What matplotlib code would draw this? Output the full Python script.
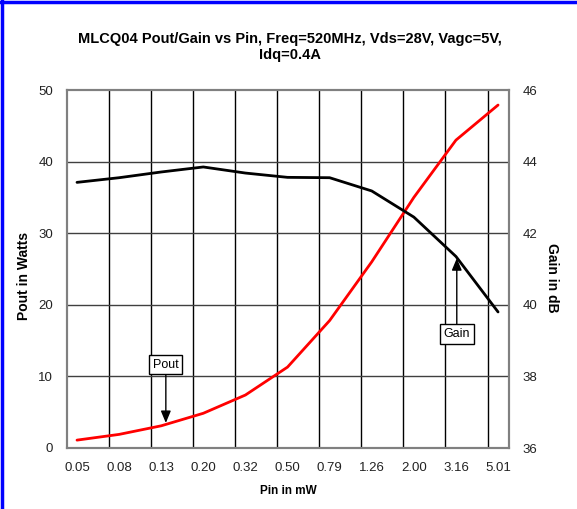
import matplotlib.pyplot as plt
from matplotlib.lines import Line2D

# 数据
pin_labels = ['0.05', '0.08', '0.13', '0.20', '0.32', '0.50', '0.79', '1.26', '2.00', '3.16', '5.01']
pout = [1.1, 1.9, 3.1, 4.85, 7.4, 11.3, 17.8, 26.0, 35.0, 43.0, 47.9]
gain = [43.42, 43.55, 43.71, 43.85, 43.68, 43.56, 43.55, 43.18, 42.45, 41.35, 39.8]

plt.rcParams['font.family'] = ['Liberation Sans', 'DejaVu Sans']

fig = plt.figure(figsize=(5.77, 5.09), dpi=100)
ax = fig.add_axes([67 / 577, 1 - 448 / 509, 442 / 577, 358 / 509])
ax2 = ax.twinx()

x = list(range(len(pin_labels)))

# 网格
ax.set_xlim(-0.2375, 10.26)
ax.set_ylim(0, 50)
ax2.set_ylim(36, 46)
for k in range(10):
    ax.axvline(0.75 + k, color='black', linewidth=1.0, zorder=1)
for v in [10, 20, 30, 40]:
    ax.axhline(v, color='#404040', linewidth=1.0, zorder=1)

ax.plot(x, pout, color='#ff0000', linewidth=2, zorder=3, solid_capstyle='round')
ax2.plot(x, gain, color='black', linewidth=2, zorder=3, solid_capstyle='round')

ax.set_xticks(x)
ax.set_xticklabels(pin_labels)
ax.set_yticks(range(0, 51, 10))
ax2.set_yticks(range(36, 47, 2))
ax.tick_params(axis='both', length=0, labelsize=9.5, colors='#222222')
ax.tick_params(axis='x', pad=10)
ax.tick_params(axis='y', pad=10)
ax2.tick_params(axis='y', length=0, labelsize=9.5, colors='#222222', pad=10)

for a in (ax, ax2):
    for s in a.spines.values():
        s.set_color('#808080')
        s.set_linewidth(1.5)

ax.set_xlabel('Pin in mW', fontsize=8.5, fontweight='bold', labelpad=8)
ax.set_ylabel('Pout in Watts', fontsize=10, fontweight='bold')
ax.yaxis.set_label_coords(-0.082, 0.48)
ax2.set_ylabel('Gain in dB', fontsize=10, fontweight='bold', rotation=-90)
ax2.yaxis.set_label_coords(1.114, 0.475)

fig.suptitle('MLCQ04 Pout/Gain vs Pin, Freq=520MHz, Vds=28V, Vagc=5V,\nIdq=0.4A',
             fontsize=10.5, fontweight='bold', x=0.503, y=0.937, linespacing=1.2)

# 标注
box = dict(boxstyle='square,pad=0.3', facecolor='white', edgecolor='black', linewidth=1)
arrow = dict(arrowstyle='-|>,head_width=0.25,head_length=0.6', color='black', linewidth=1,
             mutation_scale=12, shrinkA=0, shrinkB=0)
ax.annotate('Pout', xy=(2.11, 3.5), xytext=(2.11, 11.66), fontsize=9,
            ha='center', va='center', bbox=box, arrowprops=arrow, zorder=5)
ax.annotate('Gain', xy=(9.02, 26.5), xytext=(9.02, 15.9), fontsize=9,
            ha='center', va='center', bbox=box, arrowprops=arrow, zorder=5)

# 蓝色边框
fig.add_artist(Line2D([0.004, 0.004], [0, 1], color='#0000ff', linewidth=2.5, transform=fig.transFigure))
fig.add_artist(Line2D([0, 1], [0.996, 0.996], color='#0000ff', linewidth=2.5, transform=fig.transFigure))

plt.savefig('out.png', dpi=100)
